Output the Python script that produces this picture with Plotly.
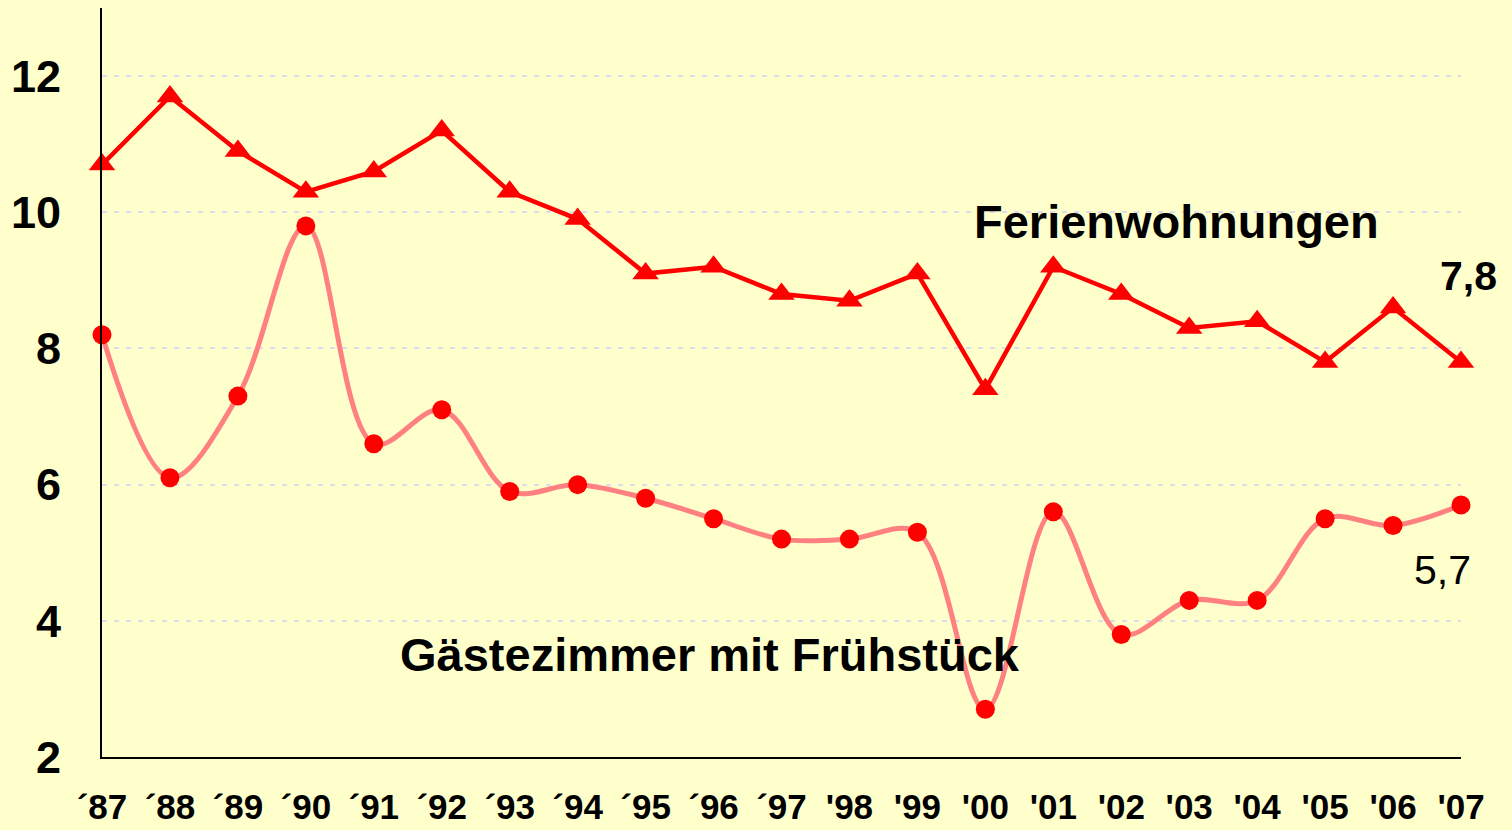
import plotly.graph_objects as go

years = ["´87", "´88", "´89", "´90", "´91", "´92", "´93", "´94", "´95", "´96", "´97",
         "'98", "'99", "'00", "'01", "'02", "'03", "'04", "'05", "'06", "'07"]
ferienwohnungen = [10.7, 11.7, 10.9, 10.3, 10.6, 11.2, 10.3, 9.9, 9.1, 9.2, 8.8,
                   8.7, 9.1, 7.4, 9.2, 8.8, 8.3, 8.4, 7.8, 8.6, 7.8]
gaestezimmer = [8.2, 6.1, 7.3, 9.8, 6.6, 7.1, 5.9, 6.0, 5.8, 5.5, 5.2,
                5.2, 5.3, 2.7, 5.6, 3.8, 4.3, 4.3, 5.5, 5.4, 5.7]
y_ticks = [2, 4, 6, 8, 10, 12]

x = list(range(len(years)))
FONT = "Liberation Sans, Arial, sans-serif"

fig = go.Figure()
fig.add_trace(go.Scatter(
    x=x, y=gaestezimmer, mode="lines",
    line=dict(color="#FF8080", width=5, shape="spline", smoothing=1.0),
    hoverinfo="skip", showlegend=False, cliponaxis=False))
fig.add_trace(go.Scatter(
    x=x, y=gaestezimmer, mode="markers",
    marker=dict(color="#FF0000", size=19, symbol="circle"),
    showlegend=False, cliponaxis=False))
fig.add_trace(go.Scatter(
    x=x, y=ferienwohnungen, mode="lines+markers",
    line=dict(color="#FF0000", width=4.5),
    marker=dict(color="#FF0000", size=23, symbol="triangle-up"),
    showlegend=False, cliponaxis=False))

ann_font_b = dict(family=FONT, size=47, color="black")
fig.add_annotation(x=15.81, y=9.87, text="<b>Ferienwohnungen</b>", showarrow=False,
                   font=ann_font_b, xanchor="center", yanchor="middle")
fig.add_annotation(x=8.95, y=3.5, text="<b>Gästezimmer mit Frühstück</b>", showarrow=False,
                   font=ann_font_b, xanchor="center", yanchor="middle")
fig.add_annotation(x=20, xshift=7, y=9.07, text="<b>7,8</b>", showarrow=False,
                   font=dict(family=FONT, size=41, color="black"), xanchor="center", yanchor="middle")
fig.add_annotation(x=19.73, y=4.75, text="5,7", showarrow=False,
                   font=dict(family=FONT, size=41, color="black"), xanchor="center", yanchor="middle")

fig.update_layout(
    width=1512, height=830,
    paper_bgcolor="#FFFFCC", plot_bgcolor="#FFFFCC",
    margin=dict(l=102, r=51, t=8, b=73),
    xaxis=dict(range=[0, 20], tickmode="array", tickvals=x, ticktext=years,
               showgrid=False, zeroline=False, showline=True, linecolor="black", linewidth=2,
               ticks="", tickfont=dict(family=FONT, size=35, color="black", weight="bold"),
               ticklabelstandoff=18, automargin=False),
    yaxis=dict(range=[2, 13], tickmode="array", tickvals=y_ticks,
               ticktext=[str(v) for v in y_ticks],
               showgrid=True, gridcolor="#DCDCEC", griddash="5px,7px", gridwidth=1.5,
               zeroline=False, showline=True, linecolor="black", linewidth=2,
               ticks="", tickfont=dict(family=FONT, size=45, color="black", weight="bold"),
               ticklabelstandoff=30, automargin=False),
)

fig.write_html("out.html", config={"displayModeBar": False},
               post_script="document.body.style.margin='0';document.body.style.background='#FFFFCC';")
